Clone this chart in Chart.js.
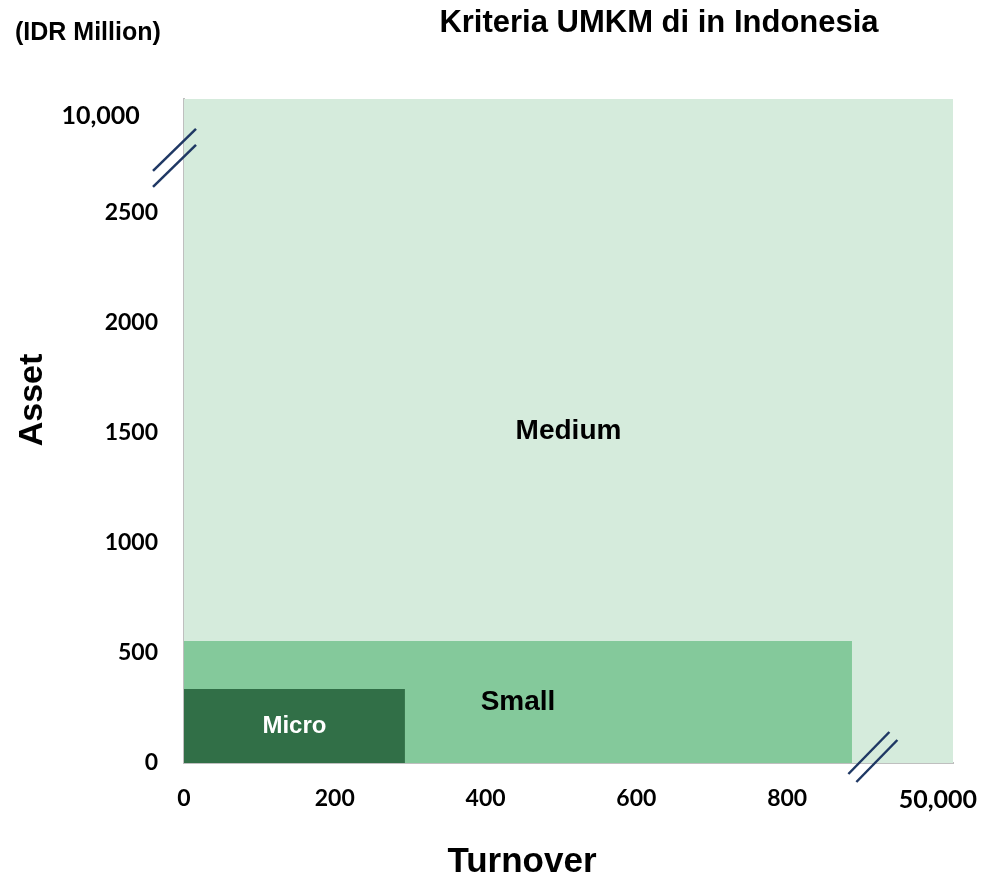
<!DOCTYPE html>
<html>
<head>
<meta charset="utf-8">
<script src="https://cdn.jsdelivr.net/npm/chart.js@4/dist/chart.umd.min.js"></script>
<style>
  html, body { margin: 0; padding: 0; background: #fff; }
  #wrap { width: 987px; height: 880px; position: relative; }
</style>
</head>
<body>
<div id="wrap"><canvas id="myChart" width="987" height="880"></canvas></div>
<script>
// categories and their limits (turnover on x, asset on y), IDR million, as drawn
const categories = ["Micro", "Small", "Medium"];
const turnoverLimit = [293, 886, 1020];
const assetLimit = [336, 555, 3018];
const fillColors = ["#316F47", "#84C99B", "#D5EBDC"];
const labelColors = ["#FFFFFF", "#000000", "#000000"];

// tick values and the labels shown on them (the last one sits past the axis break)
const xTicks = [0, 200, 400, 600, 800, 1000];
const xTickLabels = ["0", "200", "400", "600", "800", "50,000"];
const yTicks = [0, 500, 1000, 1500, 2000, 2500, 2940];
const yTickLabels = ["0", "500", "1000", "1500", "2000", "2500", "10,000"];

const tickFont = "Lato";
const textFont = "'Liberation Sans', Arial, sans-serif";

// region names, break marks and titles
const overlay = {
  id: "overlay",
  afterDatasetsDraw(chart) {
    const ctx = chart.ctx;
    const xs = chart.scales.x, ys = chart.scales.y;
    ctx.save();
    ctx.textAlign = "center";
    ctx.textBaseline = "middle";
    categories.forEach((name, i) => {
      const cx = xs.getPixelForValue(turnoverLimit[i] / 2);
      const cy = ys.getPixelForValue(assetLimit[i] / 2);
      ctx.fillStyle = labelColors[i];
      ctx.font = "bold " + (i === 0 ? 24 : 28) + "px " + textFont;
      ctx.fillText(name, cx, cy);
    });

    // axis break marks
    ctx.strokeStyle = "#1F3864";
    ctx.lineWidth = 2.5;
    const slash = (x1, y1, x2, y2) => {
      ctx.beginPath(); ctx.moveTo(x1, y1); ctx.lineTo(x2, y2); ctx.stroke();
    };
    const bx = xs.left, by = ys.getPixelForValue(2750);
    slash(bx - 31, by + 13, bx + 12, by - 29);
    slash(bx - 31, by + 29, bx + 12, by - 13);
    const ex = xs.getPixelForValue(925), ey = ys.bottom;
    slash(ex - 33, ey + 11, ex + 8, ey - 31);
    slash(ex - 25, ey + 19, ex + 16, ey - 23);

    // titles
    ctx.fillStyle = "#000";
    ctx.font = "bold 31px " + textFont;
    ctx.fillText("Kriteria UMKM di in Indonesia", 659, 23);
    ctx.font = "bold 25px " + textFont;
    ctx.textAlign = "left";
    ctx.fillText("(IDR Million)", 15, 33);
    ctx.textAlign = "center";
    ctx.font = "bold 35px " + textFont;
    ctx.fillText("Turnover", 522, 862);
    ctx.font = "bold 34px " + textFont;
    ctx.translate(33, 400);
    ctx.rotate(-Math.PI / 2);
    ctx.fillText("Asset", 0, 0);
    ctx.restore();
  }
};

const datasets = categories.map((name, i) => ({
  label: name,
  data: [{ x: 0, y: assetLimit[i] }, { x: turnoverLimit[i], y: assetLimit[i] }],
  fill: "origin",
  backgroundColor: fillColors[i],
  borderWidth: 0,
  pointRadius: 0,
  tension: 0
}));

new Chart(document.getElementById("myChart"), {
  type: "line",
  data: { datasets },
  options: {
    responsive: false,
    animation: false,
    events: [],
    layout: { padding: { top: 99, right: 34, left: 0, bottom: 0 } },
    plugins: { legend: { display: false }, tooltip: { enabled: false } },
    scales: {
      x: {
        type: "linear",
        min: 0,
        max: 1020,
        afterBuildTicks: (s) => { s.ticks = xTicks.map(v => ({ value: v })); },
        afterFit: (s) => { s.height = 117; s.paddingLeft = 0; s.paddingRight = 0; },
        grid: { display: false, drawTicks: false },
        border: { display: true, color: "#BFBFBF", width: 2 },
        ticks: {
          padding: 22,
          color: "#000",
          maxRotation: 0,
          autoSkip: false,
          font: (c) => ({ family: tickFont, weight: "bold", size: c.tick && c.tick.value === 1000 ? 25 : 23 }),
          callback: (v) => xTickLabels[xTicks.indexOf(v)]
        }
      },
      y: {
        type: "linear",
        min: 0,
        max: 3018,
        afterBuildTicks: (s) => { s.ticks = yTicks.map(v => ({ value: v })); },
        afterFit: (s) => { s.width = 184; s.paddingTop = 0; s.paddingBottom = 0; },
        grid: { display: false, drawTicks: false },
        border: { display: true, color: "#BFBFBF", width: 2 },
        ticks: {
          padding: 26,
          color: "#000",
          autoSkip: false,
          font: (c) => ({ family: tickFont, weight: "bold", size: c.tick && c.tick.value === 2940 ? 25 : 23 }),
          callback: (v) => v === 2940 ? "10,000   " : yTickLabels[yTicks.indexOf(v)]
        }
      }
    }
  },
  plugins: [overlay]
});
</script>
</body>
</html>
